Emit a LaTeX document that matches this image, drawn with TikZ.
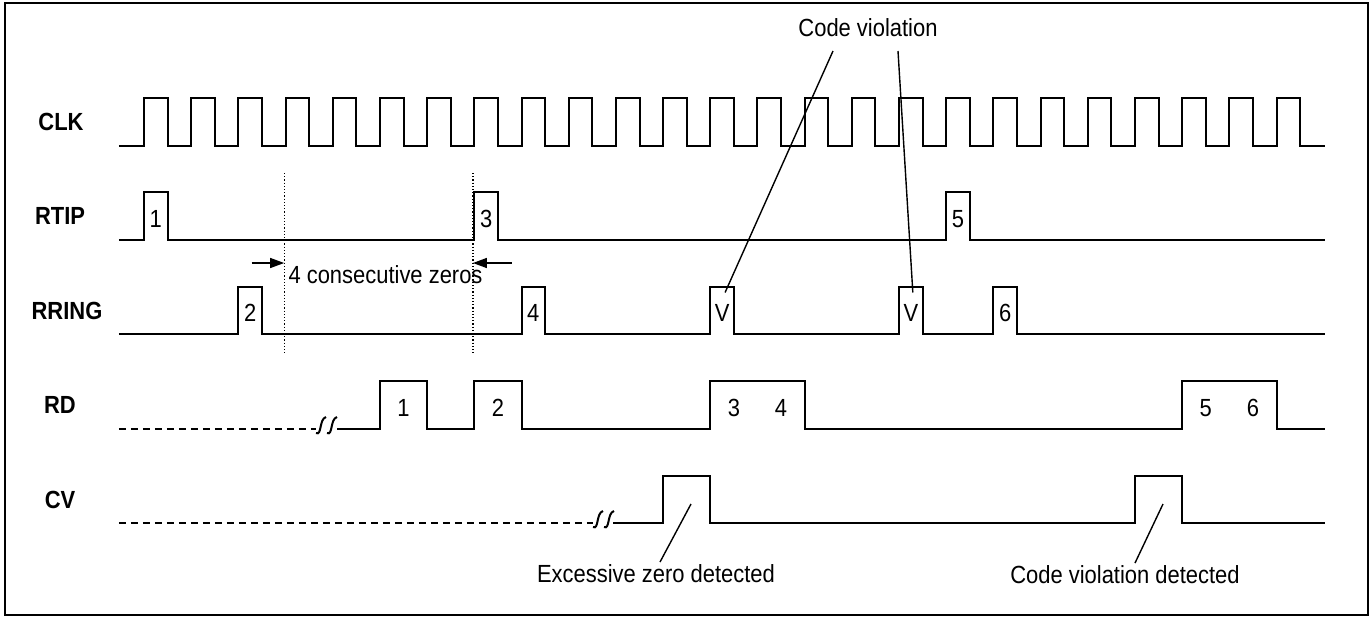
\documentclass[tikz,border=0pt]{standalone}
\usepackage{fontspec}
\setmainfont{Liberation Sans}[FakeStretch=0.885]
\usetikzlibrary{arrows.meta}

\tikzset{
	wave/.style={line width=1pt},
	lead/.style={line width=0.7pt},
	signame/.style={font=\fontsize{12.4}{14}\selectfont\bfseries},
	gap/.style={wave,dash pattern=on 3.5pt off 2.5pt},
	zeroarrow/.style={line width=0.7pt,-{Triangle[length=7pt,width=5pt]}}
}

\begin{document}
\begin{tikzpicture}[x=0.5pt,y=-0.5pt,every node/.style={inner sep=1pt,outer sep=0,font=\fontsize{12.4}{14}\selectfont}]
	\useasboundingbox (0,0) rectangle (1372,618);
	\draw[line width=1pt] (5,3) rectangle (1368,615);
	\node[signame] (clk) at (61,122) {CLK};
	\node[signame] (rtip) at (60,216) {RTIP};
	\node[signame] (rring) at (67,311) {RRING};
	\node[signame] (rd) at (60,405) {RD};
	\node[signame] (cv) at (60,500) {CV};
	\begin{scope}[shift={(144,0)},x=23.595pt]
	\draw[wave] (-0.53,146) foreach \k in {0,...,24} {-- (\k,146) -- (\k,98) -- ({\k+.5},98) -- ({\k+.5},146)} -- (25.03,146);
	\draw[wave] (-0.53,240) foreach \k in {0,7,17} {-- (\k,240) -- (\k,192) -- ({\k+.5},192) -- ({\k+.5},240)} -- (25.03,240);
	\foreach \k/\t in {0/1,7/3,17/5}
		\node (rt\k) at ({\k+.25},219) {\t};
	\draw[wave] (-0.53,334) foreach \k in {2,8,12,16,18} {-- (\k,334) -- (\k,287) -- ({\k+.5},287) -- ({\k+.5},334)} -- (25.03,334);
	\foreach \k/\t in {2/2,8/4,12/V,16/V,18/6}
		\node (rr\k) at ({\k+.25},313) {\t};
	\draw[gap] (-0.53,429) -- (3.64,429);
	\draw[wave] (4.09,429) foreach \a/\b in {5/6,7/8,12/14,22/24} {-- (\a,429) -- (\a,381) -- (\b,381) -- (\b,429)} -- (25.03,429);
	\foreach \k/\t in {5.5/1,7.5/2,12.5/3,13.5/4,22.5/5,23.5/6}
		\node (rd\t) at (\k,408) {\t};
	\draw[gap] (-0.53,523) -- (9.51,523);
	\draw[wave] (9.94,523) foreach \a/\b in {11/12,21/22} {-- (\a,523) -- (\a,476) -- (\b,476) -- (\b,523)} -- (25.03,523);
	\coordinate (za) at (2.97,173);
	\coordinate (zb) at (2.97,353);
	\coordinate (zc) at (6.97,173);
	\coordinate (zd) at (6.97,353);
	\draw[densely dotted,line width=0.6pt] (za) -- (zb);
	\draw[densely dotted,line width=0.6pt] (zc) -- (zd);
	\coordinate (zl) at (2.28,263);
	\coordinate (zr) at (7.79,263);
	\draw[zeroarrow] (zl) -- (zl -| za);
	\draw[zeroarrow] (zr) -- (zr -| zc);
	\node[anchor=base west] (zeros) at (3.02,283) {4 consecutive zeros};
	\end{scope}
	\foreach \bx in {316,327}
		\draw[wave] (\bx,433) .. controls ({\bx+6},436) and ({\bx+3},419) .. ({\bx+10},417);
	\foreach \bx in {593,604}
		\draw[wave] (\bx,527) .. controls ({\bx+6},530) and ({\bx+3},513) .. ({\bx+10},511);
	\node[anchor=base] (cvtxt) at (868,36) {Code violation};
	\coordinate (cva) at (833,51);
	\coordinate (cvb) at (898,51);
	\draw[lead] (cva) -- ([xshift=1.5pt,yshift=5pt]rr12.north);
	\draw[lead] (cvb) -- ([xshift=1pt,yshift=5pt]rr16.north);
	\node[anchor=base] (eztxt) at (656,582) {Excessive zero detected};
	\coordinate (ezp) at (691,504);
	\draw[lead] (ezp) -- ([xshift=2pt]eztxt.north);
	\node[anchor=base] (cvdtxt) at (1125,583) {Code violation detected};
	\coordinate (cvdp) at (1163,504);
	\draw[lead] (cvdp) -- ([xshift=5pt]cvdtxt.north);
\end{tikzpicture}
\end{document}
